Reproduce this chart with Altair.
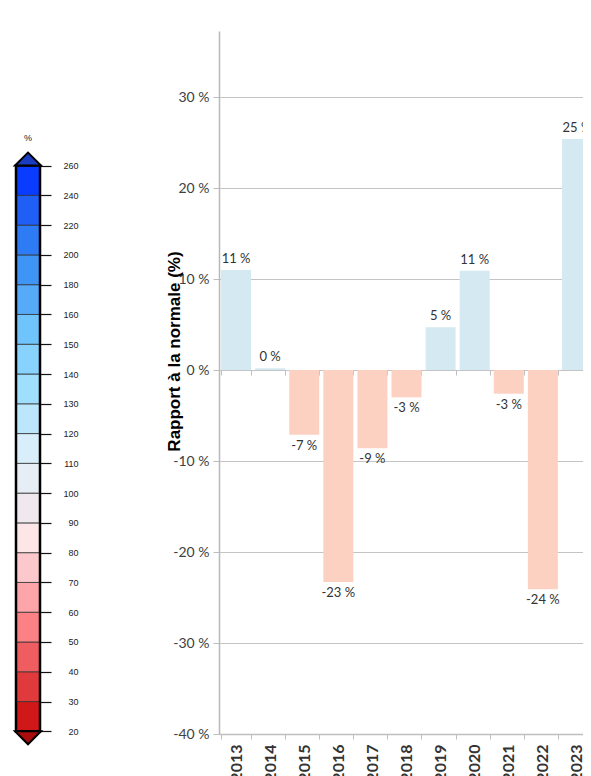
import altair as alt
import pandas as pd

# ---- bar chart data ----
years = ["2013", "2014", "2015", "2016", "2017", "2018", "2019", "2020", "2021", "2022", "2023"]
values = [11.0, 0.2, -7.1, -23.3, -8.6, -3.0, 4.7, 10.9, -2.6, -24.1, 25.4]
labels = [f"{v:.0f} %" for v in values]
y_ticks = [-40, -30, -20, -10, 0, 10, 20, 30]

# ---- colour-bar legend data (bottom to top) ----
leg_labels = ["20", "30", "40", "50", "60", "70", "80", "90", "100", "110", "120",
              "130", "140", "150", "160", "180", "200", "220", "240", "260"]
leg_colors = ["#d01818", "#e03a3c", "#f05d60", "#fb8184", "#fda5a8", "#fdc8cb",
              "#fde6e8", "#efe8ef", "#e6edf5", "#d8effb", "#bce6fb", "#a0defd",
              "#88d3fd", "#6fc4fb", "#55abf8", "#3f95f5", "#2e7cf5", "#1f5ff5", "#0a3cff"]
arrow_colors = ["#a80c0c", "#1a3cc0"]  # bottom, top

POS = "#d4e9f1"
NEG = "#fdd1c2"
W, H = 364, 703

# ---------------- legend ----------------
n = len(leg_colors)
leg_df = pd.DataFrame({"x0": [0] * n, "x1": [1] * n,
                       "lo": list(range(n)), "hi": list(range(1, n + 1)),
                       "c": leg_colors})
border_df = pd.DataFrame({"x0": [0], "x1": [1], "lo": [0], "hi": [n]})
arrow_df = pd.DataFrame({"x": [0.5, 0.5], "y": [0, n], "c": arrow_colors,
                         "s": ["M-1,0L1,0L0,1Z", "M-1,0L1,0L0,-1Z"]})
pct_df = pd.DataFrame({"x": [0.5], "y": [19.92], "t": ["%"]})

lx = alt.Scale(domain=[0, 1], range=[-203, -179], nice=False, zero=False)
ly = alt.Scale(domain=[-0.09, 23.52], nice=False, zero=False)
label_arr = "[" + ",".join(f"'{l}'" for l in leg_labels) + "]"

leg_rect = alt.Chart(leg_df).mark_rect(stroke="#333333", strokeWidth=0.8).encode(
    x=alt.X("x0:Q", scale=lx, axis=None),
    x2="x1:Q",
    y=alt.Y("lo:Q", scale=ly, axis=alt.Axis(
        orient="right", offset=-(W + 179), values=list(range(n + 1)),
        labelExpr=label_arr + "[datum.value]",
        title=None, domain=False, grid=False,
        tickSize=11, tickColor="#111111", tickWidth=1.2,
        labelAlign="right", labelPadding=27, labelBaseline="middle",
        labelFont="Liberation Sans", labelFontSize=9, labelColor="#222222")),
    y2="hi:Q",
    color=alt.Color("c:N", scale=None),
)
leg_border = alt.Chart(border_df).mark_rect(fill=None, stroke="#000000", strokeWidth=2.5).encode(
    x=alt.X("x0:Q", scale=lx, axis=None), x2="x1:Q",
    y=alt.Y("lo:Q", scale=ly, axis=None), y2="hi:Q",
)
leg_arrows = alt.Chart(arrow_df).mark_point(filled=True, stroke="#000000", strokeWidth=2,
                                             size=676, opacity=1).encode(
    x=alt.X("x:Q", scale=lx, axis=None),
    y=alt.Y("y:Q", scale=ly, axis=None),
    shape=alt.Shape("s:N", scale=None),
    fill=alt.Fill("c:N", scale=None),
)
leg_pct = alt.Chart(pct_df).mark_text(font="Liberation Sans", fontSize=9, color="#222222").encode(
    x=alt.X("x:Q", scale=lx, axis=None),
    y=alt.Y("y:Q", scale=ly, axis=None),
    text="t:N",
)
legend = alt.layer(leg_rect, leg_border, leg_arrows, leg_pct).resolve_axis(
    x="independent", y="independent")

# ---------------- bar chart ----------------
bar_df = pd.DataFrame({"year": years, "value": values, "label": labels})
xs = alt.Scale(domain=years, range=[0, 375], paddingInner=0.12, paddingOuter=0.06)
ys = alt.Scale(domain=[-40, 37.26], nice=False, zero=False)

x_axis = alt.Axis(title=None, labelAngle=-90, labelFont="Lato", labelFontSize=16,
                  labelFontWeight="bold", labelColor="#333333", labelPadding=5,
                  tickBand="extent", tickSize=5, tickColor="#bfbfbf",
                  domainColor="#bfbfbf", domainWidth=1.5, grid=False)
y_axis = alt.Axis(title="Rapport à la normale (%)", values=y_ticks,
                  labelExpr="datum.value + ' %'", labelFont="Lato", labelFontSize=14,
                  labelColor="#404040", labelPadding=4,
                  tickSize=6, tickColor="#bfbfbf", domainColor="#b8b8b8", domainWidth=1.5,
                  grid=True, gridColor="#c4c4c4", gridWidth=1,
                  titleFont="Liberation Sans", titleFontSize=17, titleFontWeight="bold",
                  titleColor="#000000", titleAngle=-90, titleAlign="center",
                  titleBaseline="alphabetic", titleX=-40, titleY=320)

bars = alt.Chart(bar_df).mark_bar().encode(
    x=alt.X("year:N", scale=xs, sort=years, axis=x_axis),
    y=alt.Y("value:Q", scale=ys, axis=y_axis),
    color=alt.when(alt.datum.value >= 0).then(alt.value(POS)).otherwise(alt.value(NEG)),
)
pos_txt = alt.Chart(bar_df).transform_filter(alt.datum.value >= 0).mark_text(
    baseline="bottom", dy=-4, font="Lato", fontSize=13, color="#333333").encode(
    x=alt.X("year:N", scale=xs, sort=years, axis=None),
    y=alt.Y("value:Q", scale=ys, axis=None),
    text="label:N",
)
neg_txt = alt.Chart(bar_df).transform_filter(alt.datum.value < 0).mark_text(
    baseline="top", dy=5, font="Lato", fontSize=13, color="#333333").encode(
    x=alt.X("year:N", scale=xs, sort=years, axis=None),
    y=alt.Y("value:Q", scale=ys, axis=None),
    text="label:N",
)
zero_ticks = alt.Chart(bar_df).mark_point(opacity=0).encode(
    x=alt.X("year:N", scale=xs, sort=years,
            axis=alt.Axis(title=None, orient="bottom", offset=-364, labels=False,
                          domain=False, grid=False, tickBand="extent", tickSize=5,
                          tickColor="#bfbfbf")),
    y=alt.Y("value:Q", scale=ys, axis=None),
)
barchart = alt.layer(bars, pos_txt, neg_txt, zero_ticks).resolve_axis(
    x="independent", y="independent")

chart = alt.layer(legend, barchart).resolve_scale(
    x="independent", y="independent"
).resolve_axis(x="independent", y="independent").properties(
    width=W, height=H,
    autosize=alt.AutoSizeParams(type="none"),
    padding={"top": 23, "left": 211, "right": 0, "bottom": 42},
).configure_view(stroke=None)

chart.save("out.html", embed_options={"renderer": "svg", "actions": False})
